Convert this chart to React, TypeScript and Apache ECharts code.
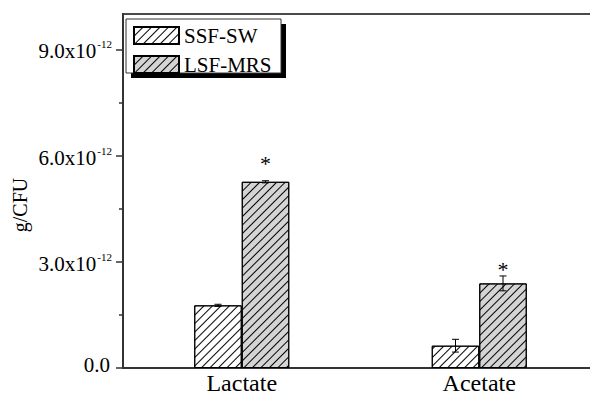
import React, { useEffect, useRef } from "react";
import * as echarts from "echarts";

const categories = ["Lactate", "Acetate"];
const seriesNames = ["SSF-SW", "LSF-MRS"];
// values in units of 1e-12 g/CFU
const ssfMeans = [1.77, 0.63];
const ssfErrors = [0.03, 0.18];
const lsfMeans = [5.26, 2.39];
const lsfErrors = [0.03, 0.21];
const significance = ["*", "*"];
const starValues = [5.85, 2.86];
const majorTicks = [0, 3, 6, 9];
const minorTicks = [1.5, 4.5, 7.5];
const yMax = 10;
const mantissaSuffix = "x10";
const exponentLabel = "-12";
const zeroLabel = "0.0";
const yAxisTitle = "g/CFU";

const FONT = "'Liberation Serif', 'Times New Roman', serif";

const hatch = (rotation: number) => ({
  symbol: "rect",
  symbolSize: 1,
  color: "#000",
  dashArrayX: [1, 0],
  dashArrayY: [1, 5],
  rotation,
});

export default function App() {
  const ref = useRef<HTMLDivElement>(null);
  useEffect(() => {
    if (!ref.current) return;
    const chart = echarts.init(ref.current, null, { renderer: "svg" });

    const errRender = (params: any, api: any) => {
      const i = api.value(0);
      const m = api.value(1);
      const e = api.value(2);
      const sgn = api.value(3);
      const bw = api.size([1, 0])[0] * 0.2;
      const cx = api.coord([i, m])[0] + (sgn * bw) / 2;
      const yT = api.coord([i, m + e])[1];
      const yB = api.coord([i, m - e])[1];
      const cap = 3.5;
      const st = { stroke: "#000", lineWidth: 1 };
      return {
        type: "group",
        children: [
          { type: "line", shape: { x1: cx, y1: yT, x2: cx, y2: yB }, style: st },
          { type: "line", shape: { x1: cx - cap, y1: yT, x2: cx + cap, y2: yT }, style: st },
          { type: "line", shape: { x1: cx - cap, y1: yB, x2: cx + cap, y2: yB }, style: st },
        ],
      };
    };

    const starRender = (params: any, api: any) => {
      const i = api.value(0);
      const v = api.value(1);
      const bw = api.size([1, 0])[0] * 0.2;
      const p = api.coord([i, v]);
      return {
        type: "text",
        x: p[0] + bw / 2,
        y: p[1] + 3,
        style: {
          text: significance[params.dataIndex],
          fontSize: 22,
          fontFamily: FONT,
          fill: "#000",
          align: "center",
          verticalAlign: "middle",
        },
      };
    };

    const tickLine = { color: "#333", width: 1.5 };

    chart.setOption({
      animation: false,
      grid: {
        show: true,
        left: 123,
        top: 14,
        width: 475,
        bottom: 31,
        outerBoundsMode: "none",
        containLabel: false,
        borderColor: "#4a4a4a",
        borderWidth: 2,
        backgroundColor: "transparent",
      },
      legend: {
        data: seriesNames,
        orient: "vertical",
        left: 133,
        top: 25,
        padding: 0,
        itemWidth: 45,
        itemHeight: 17,
        itemGap: 8,
        icon: "rect",
        selectedMode: false,
        z: 10,
        textStyle: { fontFamily: FONT, fontSize: 21, color: "#000" },
      },
      graphic: [
        { type: "rect", z: 5, shape: { x: 131, y: 24, width: 155, height: 54 }, style: { fill: "#000" } },
        { type: "rect", z: 6, shape: { x: 126, y: 19, width: 155, height: 54 }, style: { fill: "#fff", stroke: "#333", lineWidth: 1 } },
        {
          type: "text",
          x: 20,
          y: 205,
          rotation: Math.PI / 2,
          style: { text: yAxisTitle, fontSize: 20, fontFamily: FONT, fill: "#000", align: "center", verticalAlign: "middle" },
        },
      ],
      xAxis: {
        type: "category",
        data: categories,
        axisLine: { lineStyle: { color: "#333", width: 2 } },
        axisTick: { alignWithLabel: true, length: 7, lineStyle: tickLine },
        axisLabel: { fontSize: 24, fontFamily: FONT, color: "#000", margin: 3 },
        splitLine: { show: false },
      },
      yAxis: [
        {
          type: "value",
          min: 0,
          max: yMax,
          position: "left",
          axisLine: { show: true, lineStyle: { color: "#333", width: 2 } },
          axisTick: { show: true, length: 7, customValues: majorTicks, lineStyle: tickLine },
          axisLabel: {
            customValues: majorTicks,
            margin: 11,
            fontSize: 21,
            fontFamily: FONT,
            color: "#000",
            formatter: (v: number) =>
              v === 0 ? `{z|${zeroLabel}}` : `{a|${v.toFixed(1)}${mantissaSuffix}}{s| }{b|${exponentLabel}}`,
            rich: {
              z: { fontSize: 21, fontFamily: FONT, color: "#000", padding: [0, 2, 6, 0] },
              a: { fontSize: 21, fontFamily: FONT, color: "#000", lineHeight: 21, padding: [4, 0, 0, 0] },
              s: { fontSize: 4, fontFamily: FONT, lineHeight: 4 },
              b: { fontSize: 11, fontFamily: FONT, color: "#000", lineHeight: 11, verticalAlign: "top" },
            },
          },
          splitLine: { show: false },
        },
        {
          type: "value",
          min: 0,
          max: yMax,
          position: "left",
          offset: 0,
          axisLine: { show: false },
          axisTick: { show: true, length: 4, customValues: minorTicks, lineStyle: tickLine },
          axisLabel: { show: false },
          splitLine: { show: false },
        },
      ],
      series: [
        {
          name: seriesNames[0],
          type: "bar",
          data: ssfMeans,
          barWidth: "20%",
          barGap: "0%",
          itemStyle: { color: "#fff", borderColor: "#000", borderWidth: 1, decal: hatch(-Math.PI / 4) },
        },
        {
          name: seriesNames[1],
          type: "bar",
          data: lsfMeans,
          barWidth: "20%",
          barGap: "0%",
          itemStyle: { color: "#d4d4d4", borderColor: "#000", borderWidth: 1, decal: hatch(-Math.PI / 4) },
        },
        {
          type: "custom",
          renderItem: errRender,
          encode: { x: 0, y: 1 },
          data: categories.map((_, i) => [i, ssfMeans[i], ssfErrors[i], -1]),
          z: 5,
        },
        {
          type: "custom",
          renderItem: errRender,
          encode: { x: 0, y: 1 },
          data: categories.map((_, i) => [i, lsfMeans[i], lsfErrors[i], 1]),
          z: 5,
        },
        {
          type: "custom",
          renderItem: starRender,
          encode: { x: 0, y: 1 },
          data: categories.map((_, i) => [i, starValues[i]]),
          z: 5,
        },
      ],
    });
    return () => chart.dispose();
  }, []);
  return <div ref={ref} style={{ width: 590, height: 399, position: "absolute", left: 0, top: 0 }} />;
}
